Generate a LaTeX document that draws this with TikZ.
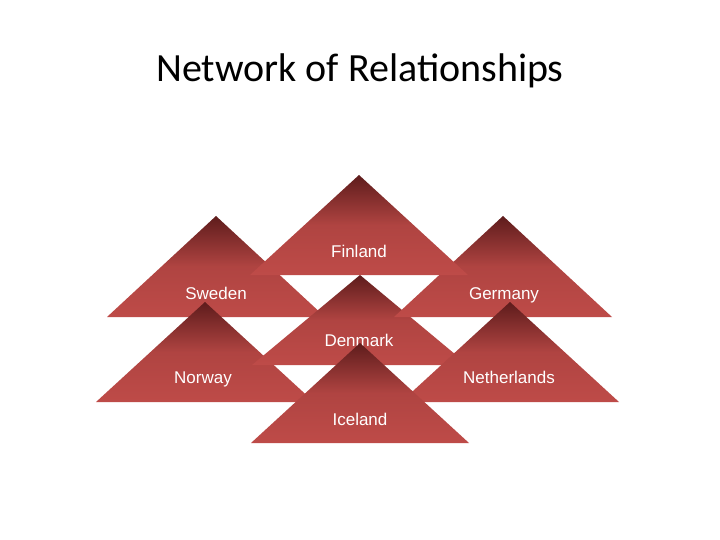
\documentclass[tikz,border=0pt]{standalone}
\usepackage{fontspec}
\setmainfont{Liberation Sans}
\newfontfamily\titlefont{Carlito}
\begin{document}
\begin{tikzpicture}[x=1pt,y=-1pt]
\definecolor{ttb}{HTML}{BE4B48}
\definecolor{ttd}{HTML}{5E1C1C}
\tikzset{tri/.style={top color=ttd, bottom color=ttb, middle color=ttb!85!ttd},
  lbl/.style={text=white,anchor=base,font=\fontsize{17}{20}\selectfont}}
\useasboundingbox (0,0) rectangle (720,540);
\node[anchor=base,font=\titlefont\fontsize{40}{46}\selectfont] (title) at (360,82) {Network of Relationships};
% Sweden
\shade[tri] (216,216) -- (325,317) -- (107,317) -- cycle;
\node[lbl] (sweden) at (216,299) {Sweden};
% Norway
\shade[tri] (205,302) -- (314,402) -- (96,402) -- cycle;
\node[lbl] (norway) at (203,383) {Norway};
% Denmark
\shade[tri] (360,275) -- (468,365) -- (252,365) -- cycle;
\node[lbl] (denmark) at (359,346) {Denmark};
% Germany
\shade[tri] (503,216) -- (612,317) -- (394,317) -- cycle;
\node[lbl] (germany) at (504,299) {Germany};
% Netherlands
\shade[tri] (510,302) -- (619,402) -- (401,402) -- cycle;
\node[lbl] (netherlands) at (509,383) {Netherlands};
% Finland
\shade[tri] (359,175) -- (468,275) -- (250,275) -- cycle;
\node[lbl] (finland) at (359,257) {Finland};
% Iceland
\shade[tri] (360,343) -- (469,443) -- (251,443) -- cycle;
\node[lbl] (iceland) at (360,425) {Iceland};
\end{tikzpicture}
\end{document}
